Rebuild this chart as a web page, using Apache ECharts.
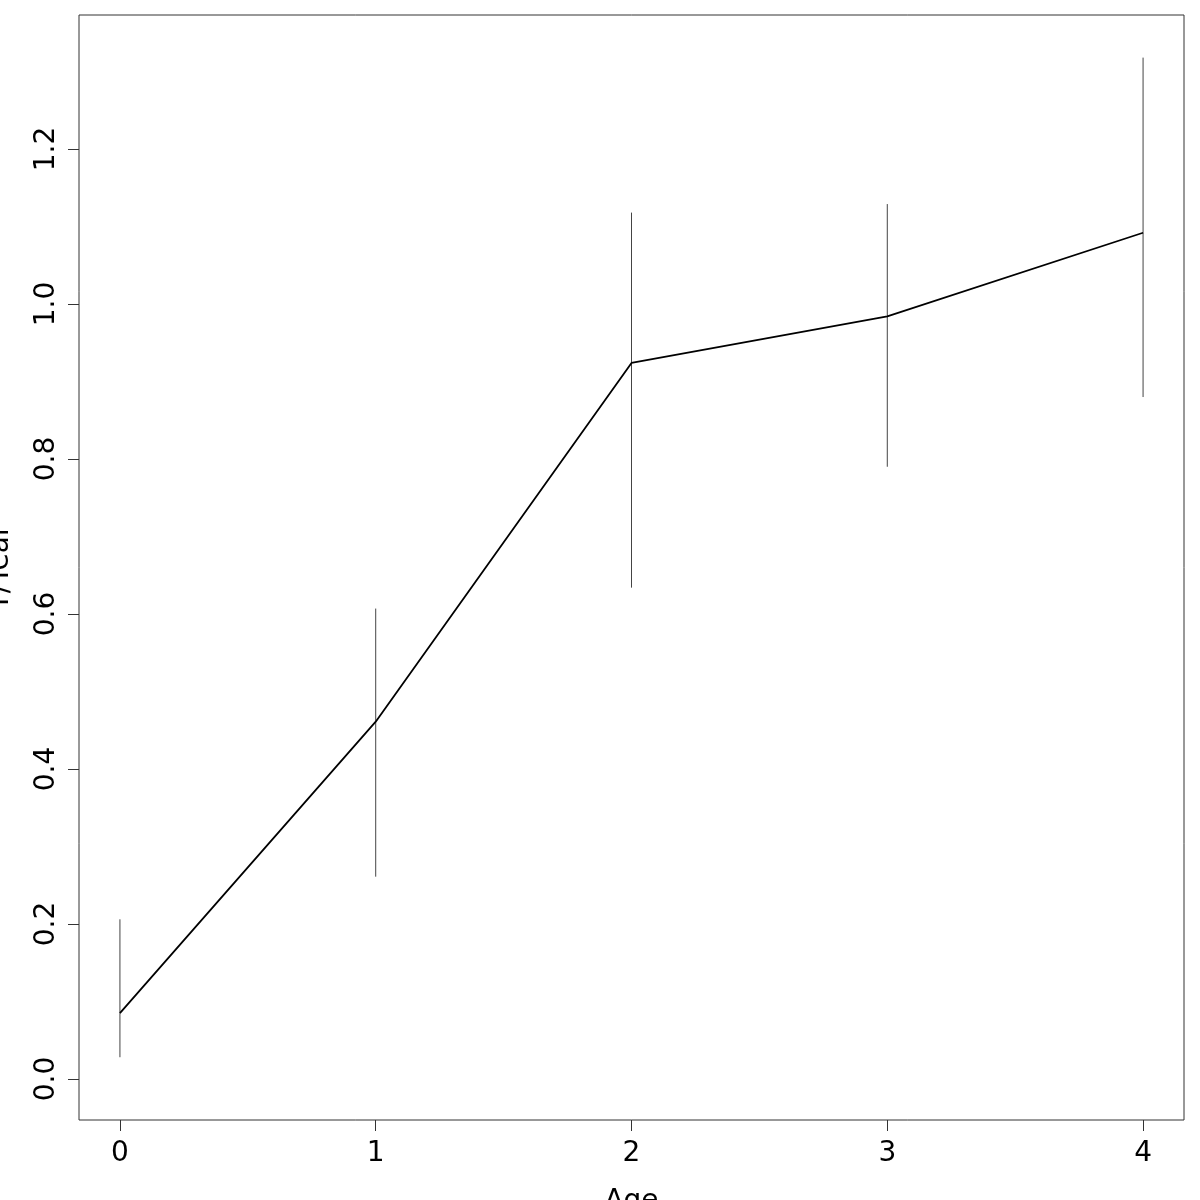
<!DOCTYPE html>
<html><head><meta charset="utf-8">
<script src="https://cdn.jsdelivr.net/npm/echarts@6/dist/echarts.min.js"></script>
<style>html,body{margin:0;padding:0;background:#fff}#c{width:1200px;height:1200px}</style>
</head><body><div id="c"></div>
<script>
const ages = [0, 1, 2, 3, 4];
const meanVals = [0.085, 0.461, 0.924, 0.984, 1.092];
const lowerVals = [0.028, 0.261, 0.634, 0.790, 0.880];
const upperVals = [0.206, 0.607, 1.118, 1.129, 1.318];
const xTicks = [0, 1, 2, 3, 4];
const yTicks = [0, 0.2, 0.4, 0.6, 0.8, 1.0, 1.2];
const xLabel = 'Age';
const yLabel = 'Y/Year';

const font = 'DejaVu Sans';
const chart = echarts.init(document.getElementById('c'));
chart.setOption({
  animation: false,
  backgroundColor: '#fff',
  grid: {left: 79, top: 15, width: 1105, height: 1105, containLabel: false, outerBoundsMode: 'none',
         show: true, borderColor: '#333', borderWidth: 1, backgroundColor: 'transparent'},
  xAxis: {
    type: 'value', min: -0.16, max: 4.16,
    name: xLabel, nameLocation: 'middle', nameGap: 68,
    nameTextStyle: {fontFamily: font, fontSize: 28, color: '#000'},
    splitLine: {show: false},
    axisLine: {show: false, onZero: false},
    axisTick: {show: true, inside: false, length: 11, lineStyle: {color: '#333'}, customValues: xTicks},
    axisLabel: {fontFamily: font, fontSize: 28, color: '#000', margin: 20, customValues: xTicks, formatter: v => String(v)}
  },
  yAxis: {
    type: 'value', min: -0.053, max: 1.373,
    name: yLabel, nameLocation: 'middle', nameGap: 64, nameRotate: 90,
    nameTextStyle: {fontFamily: font, fontSize: 28, color: '#000'},
    splitLine: {show: false},
    axisLine: {show: false, onZero: false},
    axisTick: {show: true, inside: false, length: 11, lineStyle: {color: '#333'}, customValues: yTicks},
    axisLabel: {fontFamily: font, fontSize: 28, color: '#000', margin: 18, rotate: 90, customValues: yTicks, formatter: v => v.toFixed(1)}
  },
  series: [
    {
      type: 'custom',
      data: ages.map((a, i) => [a, lowerVals[i], upperVals[i]]),
      renderItem: function (params, api) {
        const p1 = api.coord([api.value(0), api.value(1)]);
        const p2 = api.coord([api.value(0), api.value(2)]);
        return {type: 'line', shape: {x1: p1[0], y1: p1[1], x2: p2[0], y2: p2[1]}, style: {stroke: '#444', lineWidth: 1}};
      },
      z: 1
    },
    {
      type: 'line',
      data: ages.map((a, i) => [a, meanVals[i]]),
      showSymbol: false, symbol: 'none',
      lineStyle: {color: '#000', width: 1.8},
      z: 2
    }
  ]
});
</script></body></html>
